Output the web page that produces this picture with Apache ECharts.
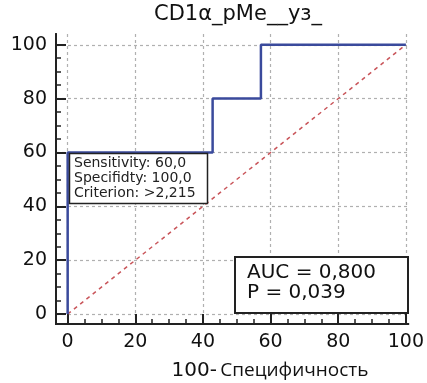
<!DOCTYPE html>
<html>
<head>
<meta charset="utf-8">
<script src="https://cdn.jsdelivr.net/npm/echarts@6/dist/echarts.min.js"></script>
<style>html,body{margin:0;padding:0;background:#fff}#c{width:427px;height:383px}</style>
</head>
<body>
<div id="c"></div>
<script>
// ROC curve: 100 - specificity (x) vs sensitivity (y)
const rocX = [0, 0, 42.86, 42.86, 57.14, 57.14, 100];
const rocY = [0, 60, 60, 80, 80, 100, 100];
const refX = [0, 100];
const refY = [0, 100];
const majorTicks = [0, 20, 40, 60, 80, 100];
const minorTicks = [5, 10, 15, 25, 30, 35, 45, 50, 55, 65, 70, 75, 85, 90, 95];
const titleText = 'CD1α_pMe__уз_';
const xNamePrefix = '100-';
const xNameText = 'Специфичность';
const boxLines = ['Sensitivity: 60,0', 'Specifidty: 100,0', 'Criterion: >2,215'];
const statLines = ['AUC = 0,800', 'P = 0,039'];

const FONT = 'DejaVu Sans';
const chart = echarts.init(document.getElementById('c'), null, {renderer: 'canvas'});

function majorAxis(min, max) {
  return {
    type: 'value', min: min, max: max,
    axisLine: {show: true, onZero: false, lineStyle: {color: '#222', width: 2}},
    axisTick: {show: true, inside: true, length: 10, customValues: majorTicks, lineStyle: {color: '#222', width: 2}},
    axisLabel: {show: true, customValues: majorTicks, margin: 9, color: '#111', fontFamily: FONT, fontSize: 19},
    splitLine: {show: true, lineStyle: {color: '#b0b0b0', type: [3, 3], width: 1.2}}
  };
}
function minorAxis(min, max) {
  return {
    type: 'value', min: min, max: max,
    axisLine: {show: true, onZero: false, lineStyle: {color: '#222', width: 2}},
    axisTick: {show: true, inside: true, length: 5, customValues: minorTicks, lineStyle: {color: '#222', width: 1.5}},
    axisLabel: {show: false},
    splitLine: {show: false}
  };
}

const xMin = -3.45, xMax = 100.7, yMin = -3.7, yMax = 104;
const xa0 = majorAxis(xMin, xMax); xa0.position = 'bottom';
const xa1 = minorAxis(xMin, xMax); xa1.position = 'bottom';
const ya0 = majorAxis(yMin, yMax); ya0.position = 'left';
const ya1 = minorAxis(yMin, yMax); ya1.position = 'left';

chart.setOption({
  animation: false,
  backgroundColor: '#fff',
  grid: {left: 56, right: 17, top: 34, bottom: 59, containLabel: false},
  xAxis: [xa0, xa1],
  yAxis: [ya0, ya1],
  series: [
    {
      type: 'line', xAxisIndex: 0, yAxisIndex: 0, symbol: 'none', z: 3,
      data: refX.map((v, i) => [v, refY[i]]),
      lineStyle: {color: '#c9555a', width: 1.5, type: [4, 4]}
    },
    {
      type: 'line', xAxisIndex: 0, yAxisIndex: 0, symbol: 'none', z: 4,
      data: rocX.map((v, i) => [v, rocY[i]]),
      lineStyle: {color: '#3a4a9c', width: 2.5}
    }
  ],
  graphic: [
    {type: 'text', z: 10, style: {text: titleText, x: 238, y: 15, textAlign: 'center', textVerticalAlign: 'middle', font: '21px "DejaVu Sans"', fill: '#111'}},
    {type: 'text', z: 10, style: {
      text: '{a|' + xNamePrefix + '} {b|' + xNameText + '}', x: 270, y: 371, textAlign: 'center', textVerticalAlign: 'middle',
      rich: {a: {fontFamily: FONT, fontSize: 20, fill: '#111'}, b: {fontFamily: 'Open Sans', fontSize: 19, fill: '#111'}}
    }},
    {type: 'rect', z: 10, shape: {x: 69.5, y: 153.5, width: 138, height: 50}, style: {fill: '#fff', stroke: '#222', lineWidth: 1.5}},
    {type: 'text', z: 11, style: {text: boxLines.join('\n'), x: 74, y: 156, font: '14px "DejaVu Sans"', lineHeight: 15, fill: '#222'}},
    {type: 'rect', z: 10, shape: {x: 235, y: 257, width: 173, height: 56}, style: {fill: '#fff', stroke: '#222', lineWidth: 2}},
    {type: 'text', z: 11, style: {text: statLines.join('\n'), x: 247, y: 263, font: '20px "DejaVu Sans"', lineHeight: 20, fill: '#111'}}
  ]
});
</script>
</body>
</html>
